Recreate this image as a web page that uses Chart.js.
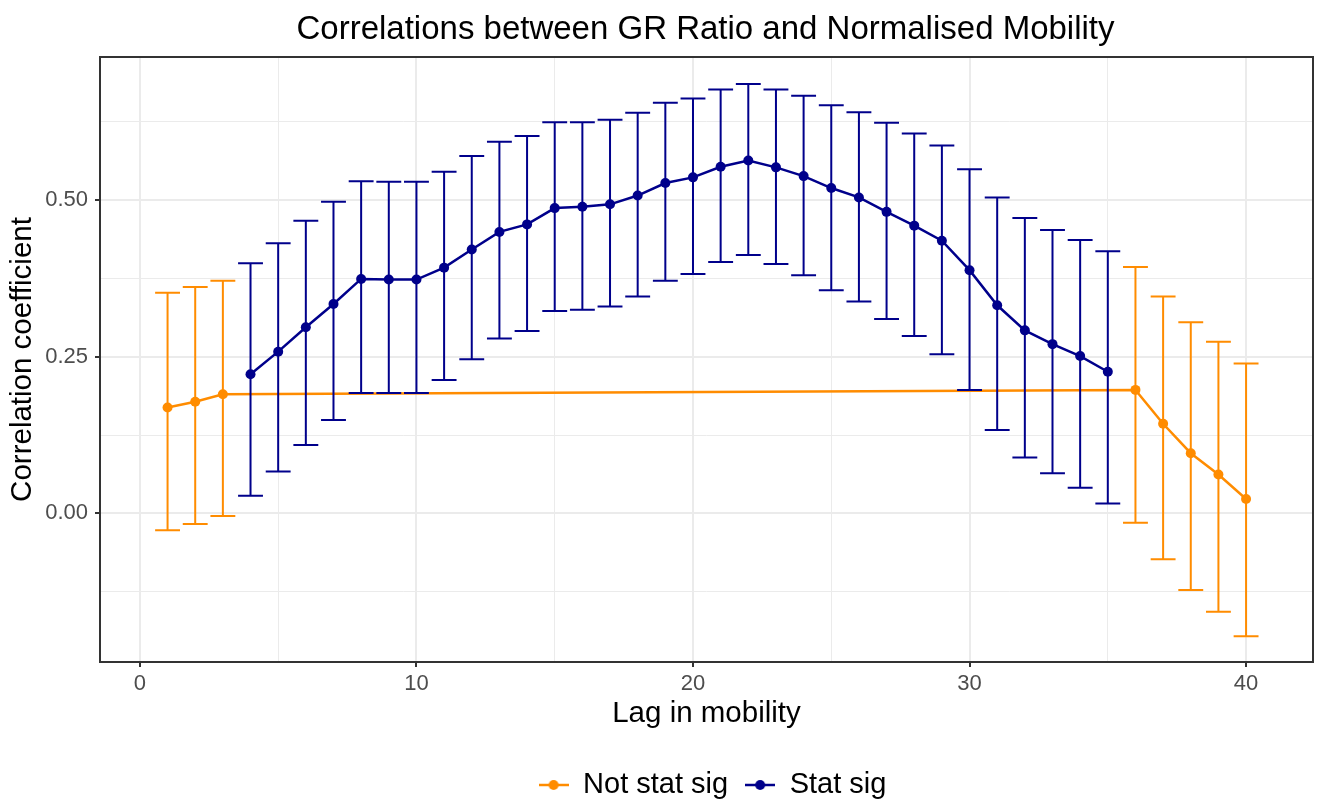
<!DOCTYPE html>
<html>
<head>
<meta charset="utf-8">
<script src="https://cdn.jsdelivr.net/npm/chart.js@4"></script>
<style>
html,body{margin:0;padding:0;background:#ffffff;}
#wrap{width:1318px;height:803px;}
</style>
</head>
<body>
<div id="wrap"><canvas id="c" width="1318" height="803"></canvas></div>
<script>
// ---- Data ----
const lagsNotSig = [1, 2, 3, 36, 37, 38, 39, 40];
const corrNotSig = [0.169, 0.178, 0.190, 0.197, 0.143, 0.096, 0.062, 0.023];
const lowNotSig  = [-0.027, -0.017, -0.004, -0.015, -0.073, -0.122, -0.157, -0.196];
const highNotSig = [0.352, 0.361, 0.371, 0.393, 0.346, 0.305, 0.274, 0.239];

const lagsSig = [4, 5, 6, 7, 8, 9, 10, 11, 12, 13, 14, 15, 16, 17, 18, 19,
                 20, 21, 22, 23, 24, 25, 26, 27, 28, 29, 30, 31, 32, 33, 34, 35];
const corrSig = [0.222, 0.258, 0.297, 0.334, 0.374, 0.373, 0.373, 0.392, 0.421, 0.449, 0.461, 0.487, 0.489, 0.493, 0.507, 0.527,
                 0.536, 0.553, 0.563, 0.552, 0.538, 0.519, 0.504, 0.481, 0.459, 0.435, 0.388, 0.332, 0.292, 0.270, 0.251, 0.226];
const lowSig  = [0.028, 0.067, 0.109, 0.149, 0.192, 0.192, 0.192, 0.213, 0.246, 0.279, 0.291, 0.323, 0.325, 0.330, 0.346, 0.371,
                 0.382, 0.401, 0.412, 0.398, 0.380, 0.356, 0.338, 0.310, 0.283, 0.254, 0.197, 0.133, 0.089, 0.064, 0.041, 0.016];
const highSig = [0.399, 0.431, 0.467, 0.497, 0.530, 0.529, 0.529, 0.545, 0.570, 0.593, 0.602, 0.624, 0.624, 0.628, 0.639, 0.655,
                 0.662, 0.676, 0.685, 0.676, 0.666, 0.651, 0.640, 0.623, 0.606, 0.587, 0.549, 0.504, 0.471, 0.452, 0.436, 0.418];

const seriesNames = ['Not stat sig', 'Stat sig'];
const xMajorTicks = [0, 10, 20, 30, 40];
const yMajorTicks = [0.00, 0.25, 0.50];

// ---- Styling ----
const FONT = "'Liberation Sans', Arial, Helvetica, sans-serif";
const ORANGE = '#FF8C00';
const BLUE = '#00008B';
const GRID = '#EBEBEB';
const ERR_HALF_WIDTH = 0.45;
const LEGEND_EXTRA_SHIFT = 7;

function isMajor(v, list) { return list.some(m => Math.abs(m - v) < 1e-9); }

function legendSymbol(color) {
  const c = document.createElement('canvas');
  c.width = 30; c.height = 14;
  const g = c.getContext('2d');
  g.strokeStyle = color; g.lineWidth = 2.5;
  g.beginPath(); g.moveTo(0, 7); g.lineTo(30, 7); g.stroke();
  g.fillStyle = color;
  g.beginPath(); g.arc(15, 7, 5, 0, Math.PI * 2); g.fill();
  return c;
}
const symOrange = legendSymbol(ORANGE);
const symBlue = legendSymbol(BLUE);

const errorBarsPlugin = {
  id: 'errorBars',
  afterDatasetsDraw(chart) {
    const { ctx, scales } = chart;
    const xs = scales.x, ys = scales.y;
    function draw(lags, lo, hi, color) {
      ctx.save();
      ctx.strokeStyle = color;
      ctx.lineWidth = 2;
      lags.forEach((l, i) => {
        const px = xs.getPixelForValue(l);
        const pl = xs.getPixelForValue(l - ERR_HALF_WIDTH);
        const pr = xs.getPixelForValue(l + ERR_HALF_WIDTH);
        const yl = ys.getPixelForValue(lo[i]);
        const yh = ys.getPixelForValue(hi[i]);
        ctx.beginPath();
        ctx.moveTo(px, yl); ctx.lineTo(px, yh);
        ctx.moveTo(pl, yl); ctx.lineTo(pr, yl);
        ctx.moveTo(pl, yh); ctx.lineTo(pr, yh);
        ctx.stroke();
      });
      ctx.restore();
    }
    draw(lagsNotSig, lowNotSig, highNotSig, ORANGE);
    draw(lagsSig, lowSig, highSig, BLUE);
  }
};

const panelBorderPlugin = {
  id: 'panelBorder',
  afterDraw(chart) {
    const a = chart.chartArea;
    const ctx = chart.ctx;
    ctx.save();
    ctx.strokeStyle = '#333333';
    ctx.lineWidth = 2;
    ctx.strokeRect(a.left, a.top, a.right - a.left, a.bottom - a.top);
    ctx.restore();
  }
};

const centerOnPanelPlugin = {
  id: 'centerOnPanel',
  afterLayout(chart) {
    const a = chart.chartArea;
    const shift = (a.left + a.right) / 2 - chart.width / 2;
    if (chart.titleBlock) { chart.titleBlock.left += shift; chart.titleBlock.right += shift; }
    if (chart.legend) { chart.legend.left += shift + LEGEND_EXTRA_SHIFT; chart.legend.right += shift + LEGEND_EXTRA_SHIFT; }
  }
};

const dataNotSig = lagsNotSig.map((l, i) => ({ x: l, y: corrNotSig[i] }));
const dataSig = lagsSig.map((l, i) => ({ x: l, y: corrSig[i] }));

new Chart(document.getElementById('c'), {
  type: 'line',
  data: {
    datasets: [
      {
        label: seriesNames[0], data: dataNotSig, order: 2,
        borderColor: ORANGE, backgroundColor: ORANGE, borderWidth: 2.5,
        pointRadius: 5, pointBorderWidth: 0, pointBackgroundColor: ORANGE,
        tension: 0, fill: false
      },
      {
        label: seriesNames[1], data: dataSig, order: 1,
        borderColor: BLUE, backgroundColor: BLUE, borderWidth: 2.5,
        pointRadius: 5, pointBorderWidth: 0, pointBackgroundColor: BLUE,
        tension: 0, fill: false
      }
    ]
  },
  options: {
    responsive: false,
    animation: false,
    devicePixelRatio: 1,
    layout: { padding: { left: 0, right: 2, top: 0, bottom: -6.5 } },
    plugins: {
      title: {
        display: true,
        text: 'Correlations between GR Ratio and Normalised Mobility',
        color: '#000000',
        font: { family: FONT, size: 33, weight: 'normal' },
        padding: { top: 9.7, bottom: 7.7 }
      },
      legend: {
        display: true,
        position: 'bottom',
        labels: {
          color: '#000000',
          font: { family: FONT, size: 29 },
          usePointStyle: true,
          pointStyleWidth: 30,
          boxWidth: 30,
          padding: 17,
          generateLabels() {
            return [
              { text: seriesNames[0], pointStyle: symOrange, fillStyle: ORANGE, strokeStyle: ORANGE, lineWidth: 0, hidden: false, datasetIndex: 0, fontColor: '#000000' },
              { text: seriesNames[1], pointStyle: symBlue, fillStyle: BLUE, strokeStyle: BLUE, lineWidth: 0, hidden: false, datasetIndex: 1, fontColor: '#000000' }
            ];
          }
        }
      },
      tooltip: { enabled: false }
    },
    scales: {
      x: {
        type: 'linear',
        min: -1.443,
        max: 42.42,
        afterFit(scale) { scale.height = 91.5; },
        ticks: {
          stepSize: 5,
          includeBounds: false,
          autoSkip: false,
          maxRotation: 0,
          padding: 4,
          color: '#4D4D4D',
          font: { family: FONT, size: 22 },
          callback: (v) => isMajor(v, xMajorTicks) ? String(v) : ''
        },
        grid: {
          color: GRID,
          lineWidth: (c) => isMajor(c.tick.value, xMajorTicks) ? 2 : 1,
          drawTicks: true,
          tickLength: 5,
          tickWidth: 2,
          tickColor: (c) => isMajor(c.tick.value, xMajorTicks) ? '#333333' : 'rgba(0,0,0,0)'
        },
        border: { display: false },
        title: {
          display: true,
          text: 'Lag in mobility',
          color: '#000000',
          font: { family: FONT, size: 29.5 },
          padding: { top: 0, bottom: 22 }
        }
      },
      y: {
        type: 'linear',
        min: -0.237,
        max: 0.728,
        afterFit(scale) { scale.width = 100; },
        ticks: {
          stepSize: 0.125,
          includeBounds: false,
          autoSkip: false,
          padding: 7,
          color: '#4D4D4D',
          font: { family: FONT, size: 22 },
          callback: (v) => isMajor(v, yMajorTicks) ? Number(v).toFixed(2) : ''
        },
        grid: {
          color: GRID,
          lineWidth: (c) => isMajor(c.tick.value, yMajorTicks) ? 2 : 1,
          drawTicks: true,
          tickLength: 5,
          tickWidth: 2,
          tickColor: (c) => isMajor(c.tick.value, yMajorTicks) ? '#333333' : 'rgba(0,0,0,0)'
        },
        border: { display: false },
        title: {
          display: true,
          text: 'Correlation coefficient',
          color: '#000000',
          font: { family: FONT, size: 29.5 },
          padding: { top: 5.3, bottom: 0 }
        }
      }
    }
  },
  plugins: [errorBarsPlugin, panelBorderPlugin, centerOnPanelPlugin]
});
</script>
</body>
</html>
